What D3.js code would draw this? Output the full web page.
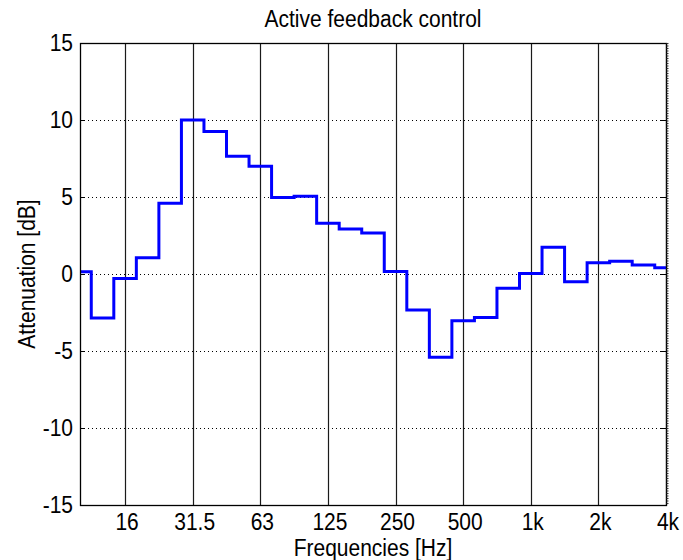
<!DOCTYPE html>
<html>
<head>
<meta charset="utf-8">
<script src="https://cdn.jsdelivr.net/npm/d3@7"></script>
<style>
  html, body { margin: 0; padding: 0; background: #fff; }
  svg { display: block; }
  text { font-family: "Liberation Sans", Arial, sans-serif; fill: #000; }
</style>
</head>
<body>
<svg id="chart" width="683" height="560"></svg>
<script>
// Third-octave band centres (nominal, Hz)
const bandCenters = [10, 12.5, 16, 20, 25, 31.5, 40, 50, 63, 80, 100, 125, 160, 200,
                     250, 315, 400, 500, 630, 800, 1000, 1250, 1600, 2000, 2500, 3150, 4000];
// Attenuation per band (dB)
const attenuation = [0.15, -2.85, -0.3, 1.05, 4.6, 10.0, 9.25, 7.65, 7.0, 4.97, 5.05, 3.3, 2.93, 2.67,
                     0.17, -2.33, -5.4, -3.04, -2.82, -0.93, 0.04, 1.73, -0.5, 0.73, 0.82, 0.59, 0.4];
// Octave axis ticks
const xTickValues = [16, 31.5, 63, 125, 250, 500, 1000, 2000, 4000];
const xTickLabels = ["16", "31.5", "63", "125", "250", "500", "1k", "2k", "4k"];
const yTickValues = [-15, -10, -5, 0, 5, 10, 15];

const svg = d3.select("#chart");
const plot = { left: 80, right: 666, top: 43, bottom: 505 };

// exact base-2 third-octave frequency for a nominal band value
const exactFreq = f => 1000 * Math.pow(2, (bandCenters.indexOf(f) - bandCenters.indexOf(1000)) / 3);

const x = d3.scaleLog()
  .domain([exactFreq(bandCenters[0]), exactFreq(bandCenters[bandCenters.length - 1])])
  .range([plot.left, plot.right]);
const y = d3.scaleLinear().domain([-15, 15]).range([plot.bottom, plot.top]);

const [fMin, fMax] = x.domain();
const half = Math.pow(2, 1 / 6);

// horizontal dotted grid
svg.append("g").selectAll("line")
  .data(yTickValues.filter(v => v > -15 && v < 15))
  .join("line")
  .attr("x1", plot.left).attr("x2", plot.right)
  .attr("y1", d => y(d) + 0.5).attr("y2", d => y(d) + 0.5)
  .attr("stroke", "#000").attr("stroke-width", 1)
  .attr("stroke-dasharray", "1,3");

// vertical octave lines
svg.append("g").selectAll("line")
  .data(xTickValues)
  .join("line")
  .attr("x1", d => Math.round(x(exactFreq(d))) + 0.5).attr("x2", d => Math.round(x(exactFreq(d))) + 0.5)
  .attr("y1", plot.top).attr("y2", plot.bottom)
  .attr("stroke", "#1a1a1a").attr("stroke-width", 1.2);

// band staircase
const pts = bandCenters.map((f, i) => [Math.max(fMin, exactFreq(f) / half), attenuation[i]]);
pts.push([fMax, attenuation[attenuation.length - 1]]);
const stair = d3.line()
  .x(d => x(d[0]))
  .y(d => y(d[1]))
  .curve(d3.curveStepAfter);
svg.append("path")
  .attr("d", stair(pts))
  .attr("fill", "none")
  .attr("stroke", "#0000ff")
  .attr("stroke-width", 3)
  .attr("stroke-linejoin", "miter");

// axes box
svg.append("rect")
  .attr("x", plot.left + 0.5).attr("y", plot.top + 0.5)
  .attr("width", plot.right - plot.left).attr("height", plot.bottom - plot.top)
  .attr("fill", "none").attr("stroke", "#000").attr("stroke-width", 1.3);

// right-hand edge minor tick texture
svg.append("line")
  .attr("x1", plot.right + 1.5).attr("x2", plot.right + 1.5)
  .attr("y1", plot.top).attr("y2", plot.bottom)
  .attr("stroke", "#333").attr("stroke-width", 2)
  .attr("stroke-dasharray", "1,1.5");

// y tick marks (inside, both sides)
const yt = svg.append("g");
yt.selectAll("line.l").data(yTickValues).join("line").attr("class", "l")
  .attr("x1", plot.left).attr("x2", plot.left + 5)
  .attr("y1", d => y(d) + 0.5).attr("y2", d => y(d) + 0.5)
  .attr("stroke", "#000");
yt.selectAll("line.r").data(yTickValues).join("line").attr("class", "r")
  .attr("x1", plot.right - 5).attr("x2", plot.right)
  .attr("y1", d => y(d) + 0.5).attr("y2", d => y(d) + 0.5)
  .attr("stroke", "#000");

const fs = 21, vs = 1.15;
function label(g, tx, ty, str, anchor, rot) {
  const t = g.append("g").attr("transform", `translate(${tx},${ty}) rotate(${rot || 0}) scale(1,${vs})`);
  t.append("text").attr("text-anchor", anchor).attr("font-size", fs).text(str);
}

// y tick labels
const yl = svg.append("g");
yTickValues.forEach(v => label(yl, plot.left - 7, y(v) + 7.5, String(v), "end"));

// x tick labels
const xl = svg.append("g");
xTickValues.forEach((v, i) => label(xl, x(exactFreq(v)) + 2, 530, xTickLabels[i], "middle"));

// titles
label(svg, (plot.left + plot.right) / 2, 27, "Active feedback control", "middle");
label(svg, (plot.left + plot.right) / 2, 556, "Frequencies [Hz]", "middle");
label(svg, 35, (plot.top + plot.bottom) / 2, "Attenuation [dB]", "middle", -90);
</script>
</body>
</html>
